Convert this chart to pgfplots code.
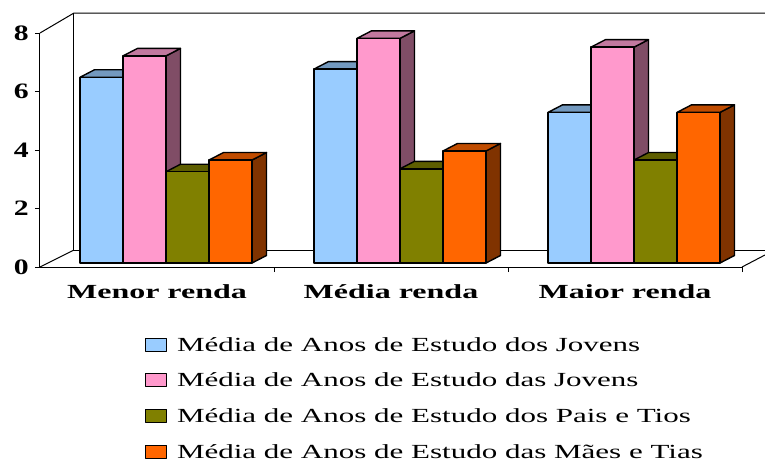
\documentclass[border=0pt]{standalone}
\usepackage{graphicx}
\usepackage{fontspec}
\setmainfont{Liberation Serif}
\usepackage{pgfplots}
\usepackage{pgfplotstable}
\pgfplotsset{compat=1.18}

\definecolor{fBlue}{HTML}{99CCFF}\definecolor{tBlue}{HTML}{7399BF}\definecolor{sBlue}{HTML}{4D6680}
\definecolor{fPink}{HTML}{FF99CC}\definecolor{tPink}{HTML}{C2799F}\definecolor{sPink}{HTML}{804D66}
\definecolor{fOlive}{HTML}{808000}\definecolor{tOlive}{HTML}{5E5E00}\definecolor{sOlive}{HTML}{404000}
\definecolor{fOrange}{HTML}{FF6600}\definecolor{tOrange}{HTML}{C04C00}\definecolor{sOrange}{HTML}{803300}

% values: mean years of schooling
\pgfplotstableread{
x  jm    jf    pais  maes
0  6.35  7.08  3.12  3.52
1  6.63  7.68  3.22  3.83
2  5.15  7.38  3.52  5.15
}\data

\newcommand\drawfaces[3]{%
  \pgfmathsetmacro\h{#1*29.25}%
  \filldraw[fill=#3, draw=black, line width=1.4pt, line join=round]
     (21.5pt,0pt) -- (36pt,7.5pt) -- (36pt,7.5pt-\h pt) -- (21.5pt,-\h pt) -- cycle;
  \filldraw[fill=#2, draw=black, line width=1.4pt, line join=round]
     (-21.5pt,0pt) -- (21.5pt,0pt) -- (36pt,7.5pt) -- (-7pt,7.5pt) -- cycle;
}

\pgfplotsset{
  faces/.style n args={2}{forget plot, scatter, only marks, mark=text, text mark={},
    visualization depends on={rawy \as \val},
    scatter/@pre marker code/.code={\drawfaces{\val}{#1}{#2}},
    scatter/@post marker code/.code={}},
  front/.style n args={2}{ybar, bar width=43pt, bar shift=#2, fill=#1, draw=black,
    line width=1.4pt, line join=round,
    legend image code/.code={\draw[fill=#1, draw=black, line width=1pt] (0pt,0pt) rectangle (21pt,13pt);}},
}

\begin{document}
\begin{tikzpicture}
\begin{axis}[
  x=234pt, y=29.25pt,
  xmin=-0.034188, xmax=2.965812, ymin=-0.136752, ymax=7.863248,
  axis x line*=bottom, axis y line*=left,
  axis line style={line width=1pt, black},
  clip=false, clip mode=individual,
  ytick={-0.136752,1.863248,3.863248,5.863248,7.863248},
  yticklabels={\scalebox{1.35}[1]{0},\scalebox{1.35}[1]{2},\scalebox{1.35}[1]{4},\scalebox{1.35}[1]{6},\scalebox{1.35}[1]{8}},
  yticklabel style={font=\fontsize{22}{22}\selectfont\bfseries, inner sep=0pt, xshift=-6pt},
  xtick={0.965812,1.965812,2.965812}, xticklabels={},
  tick align=outside, major tick length=5pt,
  tick style={line width=1pt, black},
  legend style={at={(axis cs:0.414530,-2.529915)}, anchor=north west, draw=none, fill=none,
    inner sep=0pt, outer sep=0pt, font=\fontsize{20}{24}\selectfont,
    row sep=17.7pt, column sep=10pt,
    nodes={inner sep=0pt, text height=14pt, text depth=4pt, anchor=base west}},
  legend cell align=left,
]
% walls and floor
\draw[line width=1pt] (axis cs:-0.034188,7.863248) -- (axis cs:0.111111,8.547009) -- (axis cs:3.064103,8.547009);
\draw[line width=1pt] (axis cs:0.111111,8.547009) -- (axis cs:0.111111,0.444444) -- (axis cs:3.064103,0.444444);
\draw[line width=1pt] (axis cs:-0.034188,-0.136752) -- (axis cs:0.111111,0.444444);
\draw[line width=1pt] (axis cs:2.965812,-0.136752) -- (axis cs:3.064103,0.273504);

\addplot[faces={tBlue}{sBlue}] table[x expr=\thisrow{x}+0.228632, y=jm]{\data};
\addplot[front={fBlue}{53.5pt}] table[x=x, y=jm]{\data};
\addlegendentry{\scalebox{1.55}[1]{Média de Anos de Estudo dos Jovens}}

\addplot[faces={tPink}{sPink}] table[x expr=\thisrow{x}+0.412393, y=jf]{\data};
\addplot[front={fPink}{96.5pt}] table[x=x, y=jf]{\data};
\addlegendentry{\scalebox{1.55}[1]{Média de Anos de Estudo das Jovens}}

\addplot[faces={tOlive}{sOlive}] table[x expr=\thisrow{x}+0.596154, y=pais]{\data};
\addplot[front={fOlive}{139.5pt}] table[x=x, y=pais]{\data};
\addlegendentry{\scalebox{1.55}[1]{Média de Anos de Estudo dos Pais e Tios}}

\addplot[faces={tOrange}{sOrange}] table[x expr=\thisrow{x}+0.779915, y=maes]{\data};
\addplot[front={fOrange}{182.5pt}] table[x=x, y=maes]{\data};
\addlegendentry{\scalebox{1.55}[1]{Média de Anos de Estudo das Mães e Tias}}

\node[anchor=base, inner sep=0pt, font=\fontsize{20}{24}\selectfont\bfseries] at (axis cs:0.465812,-1.196581) {\scalebox{1.6}[1]{Menor renda}};
\node[anchor=base, inner sep=0pt, font=\fontsize{20}{24}\selectfont\bfseries] at (axis cs:1.465812,-1.196581) {\scalebox{1.6}[1]{Média renda}};
\node[anchor=base, inner sep=0pt, font=\fontsize{20}{24}\selectfont\bfseries] at (axis cs:2.465812,-1.196581) {\scalebox{1.6}[1]{Maior renda}};

\coordinate (tl) at (axis cs:-0.205128,8.991453);
\coordinate (br) at (axis cs:3.064103,-6.803419);
\end{axis}
\pgfresetboundingbox
\useasboundingbox (tl) rectangle (br);
\end{tikzpicture}
\end{document}
